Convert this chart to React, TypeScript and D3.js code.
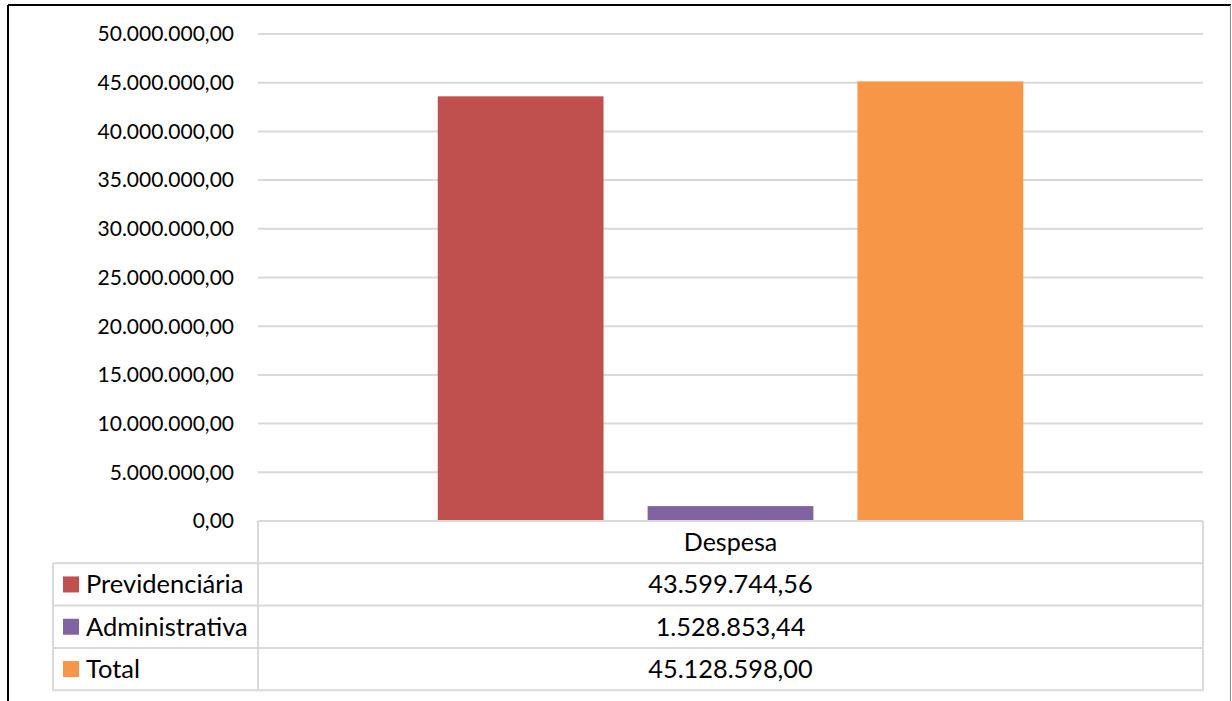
import React from "react";
import * as d3 from "d3";

const categories = ["Despesa"];
const seriesNames = ["Previdenciária", "Administrativa", "Total"];
const seriesValues = [43599744.56, 1528853.44, 45128598.0];
const seriesColors = ["#C0504D", "#8064A2", "#F79646"];
const yTicks = [0, 5000000, 10000000, 15000000, 20000000, 25000000, 30000000, 35000000, 40000000, 45000000, 50000000];

const fmt = (v: number) => {
  const [i, d] = v.toFixed(2).split(".");
  return i.replace(/\B(?=(\d{3})+(?!\d))/g, ".") + "," + d;
};

export default function App() {
  const W = 1232, H = 701;
  const plotL = 258, plotR = 1203, plotT = 34, plotB = 521;
  const rowH = 42.3;
  const legendL = 53;
  const font = "Lato, 'Open Sans', sans-serif";
  const y = d3.scaleLinear().domain([0, 50000000]).range([plotB, plotT]);
  const x0 = d3.scaleBand().domain(categories).range([plotL, plotR]).paddingInner(0).paddingOuter(0.307);
  const x1 = d3.scaleBand().domain(seriesNames).range([0, x0.bandwidth()]).paddingInner(0.21);
  const grid = "#D9D9D9";
  const tableBottom = plotB + rowH * 4;
  return (
    <div style={{ position: "fixed", left: 0, top: 0 }}>
      <svg width={W} height={H} style={{ display: "block", background: "#fff" }}>
        {/* outer frame */}
        <line x1={8} x2={8} y1={5} y2={H} stroke="#000" strokeWidth={2} />
        <line x1={8} x2={1231} y1={5} y2={5} stroke="#000" strokeWidth={2} />
        <line x1={1230.5} x2={1230.5} y1={5} y2={H} stroke="#8c8c8c" strokeWidth={1} />
        {/* gridlines */}
        {yTicks.filter((t) => t > 0).map((t) => (
          <line key={t} x1={plotL} x2={plotR} y1={y(t)} y2={y(t)} stroke={grid} strokeWidth={2} />
        ))}
        {yTicks.map((t) => (
          <text key={"l" + t} x={234} y={y(t)} dy="0.35em" textAnchor="end" fontFamily={font} fontSize={21} fill="#000">
            {fmt(t)}
          </text>
        ))}
        {/* bars */}
        {categories.map((c) => (
          <g key={c} transform={`translate(${x0(c)},0)`}>
            {seriesNames.map((s, i) => (
              <rect key={s} x={x1(s)} y={y(seriesValues[i])} width={x1.bandwidth()} height={plotB - y(seriesValues[i])} fill={seriesColors[i]} />
            ))}
          </g>
        ))}
        {/* data table */}
        <g stroke={grid} strokeWidth={2}>
          <line x1={plotL} x2={plotR} y1={plotB} y2={plotB} />
          {[1, 2, 3, 4].map((r) => (
            <line key={r} x1={legendL} x2={plotR} y1={plotB + rowH * r} y2={plotB + rowH * r} />
          ))}
          <line x1={plotL} x2={plotL} y1={plotB} y2={tableBottom} />
          <line x1={plotR} x2={plotR} y1={plotB} y2={tableBottom} />
          <line x1={legendL} x2={legendL} y1={plotB + rowH} y2={tableBottom} />
        </g>
        {categories.map((c) => (
          <text key={c} x={(x0(c) as number) + x0.bandwidth() / 2} y={plotB + rowH / 2} dy="0.35em" textAnchor="middle" fontFamily={font} fontSize={25} fill="#000">
            {c}
          </text>
        ))}
        {seriesNames.map((s, i) => {
          const cy = plotB + rowH * (i + 1.5);
          return (
            <g key={s}>
              <rect x={63} y={cy - 8} width={16} height={16} fill={seriesColors[i]} />
              <text x={86} y={cy} dy="0.35em" fontFamily={font} fontSize={25.5} fill="#000">{s}</text>
              <text x={(plotL + plotR) / 2} y={cy} dy="0.35em" textAnchor="middle" fontFamily={font} fontSize={25.3} fill="#000">
                {fmt(seriesValues[i])}
              </text>
            </g>
          );
        })}
      </svg>
    </div>
  );
}
